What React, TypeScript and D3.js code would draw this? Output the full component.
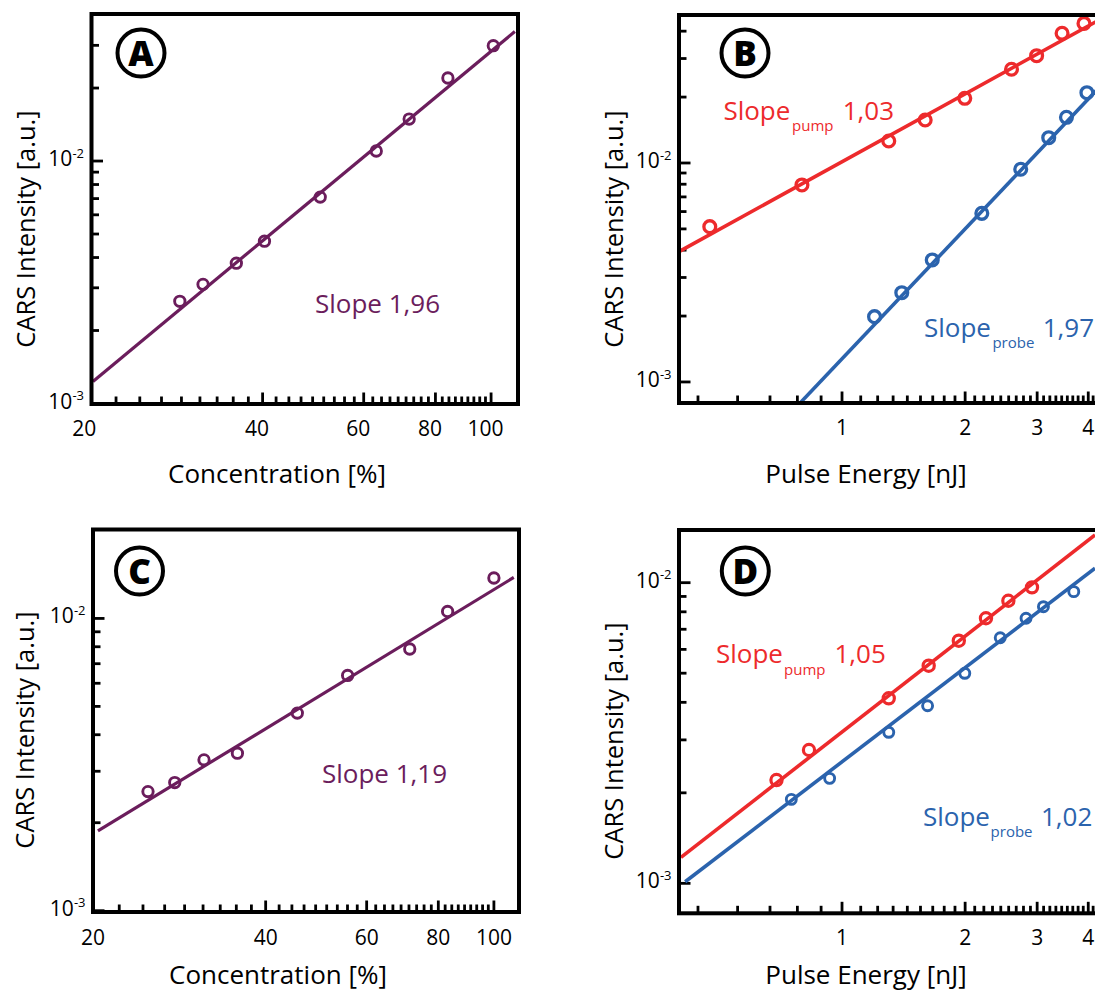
import React from "react";
import * as d3 from "d3";

const FONT = "'Open Sans', 'Noto Sans', 'DejaVu Sans', sans-serif";
const PURPLE = "#6b1d5c";
const RED = "#ed2a2c";
const BLUE = "#2b63ad";

// ---------- Panel A: concentration dependence ----------
const concA = [28.7, 31.5, 36.0, 40.3, 50.4, 63.1, 72.0, 84.1, 100.9];
const intA = [2.64e-3, 3.1e-3, 3.79e-3, 4.67e-3, 7.1e-3, 1.1e-2, 1.49e-2, 2.2e-2, 2.99e-2];
const fitAX = [20.26, 110.0];
const fitAY = [1.233e-3, 3.42e-2];

// ---------- Panel B: pulse energy dependence ----------
const pumpBE = [0.475, 0.798, 1.301, 1.597, 1.996, 2.597, 2.991, 3.452, 3.905];
const pumpBI = [5.12e-3, 7.94e-3, 1.26e-2, 1.572e-2, 1.974e-2, 2.68e-2, 3.09e-2, 3.91e-2, 4.34e-2];
const fitPumpBX = [0.3995, 4.5];
const fitPumpBY = [3.94e-3, 4.77e-2];
const probeBE = [1.201, 1.4, 1.662, 2.197, 2.735, 3.202, 3.538, 3.97];
const probeBI = [1.987e-3, 2.557e-3, 3.607e-3, 5.89e-3, 9.36e-3, 1.305e-2, 1.617e-2, 2.094e-2];
const fitProbeBX = [0.79, 4.5];
const fitProbeBY = [0.802e-3, 2.47e-2];

// ---------- Panel C: concentration dependence ----------
const concC = [24.94, 27.77, 31.23, 35.71, 45.42, 55.59, 71.33, 83.04, 100.0];
const intC = [2.556e-3, 2.744e-3, 3.282e-3, 3.459e-3, 4.743e-3, 6.38e-3, 7.86e-3, 1.057e-2, 1.375e-2];
const fitCX = [20.4, 108.3];
const fitCY = [1.875e-3, 1.381e-2];

// ---------- Panel D: pulse energy dependence ----------
const pumpDE = [0.6915, 0.8303, 1.301, 1.629, 1.93, 2.249, 2.551, 2.914];
const pumpDI = [2.206e-3, 2.776e-3, 4.125e-3, 5.296e-3, 6.413e-3, 7.614e-3, 8.71e-3, 9.65e-3];
const fitPumpDX = [0.4038, 4.156];
const fitPumpDY = [1.22e-3, 1.441e-2];
const probeDE = [0.7517, 0.9326, 1.301, 1.619, 1.996, 2.437, 2.818, 3.108, 3.687];
const probeDI = [1.903e-3, 2.235e-3, 3.179e-3, 3.898e-3, 4.995e-3, 6.561e-3, 7.614e-3, 8.321e-3, 9.335e-3];
const fitProbeDX = [0.4135, 4.156];
const fitProbeDY = [1.012e-3, 1.117e-2];

// ---------- Tick labels ----------
const concTicks = [20, 40, 60, 80, 100];
const energyTicks = [1, 2, 3, 4];
const decadeTicks = [1e-3, 1e-2];
const decadeExp = ["-3", "-2"];

type Series = {
  xs: number[]; ys: number[]; fitX: number[]; fitY: number[];
  color: string; r: number; sw: number; lw: number;
};
type Note = { color: string; parts: { t: string; x: number; y: number; size: number }[] };
type PanelDef = {
  letter: string;
  frame: [number, number, number, number];
  xDomain: [number, number];
  yDomain: [number, number];
  xMajor: number[];
  minorAbove: boolean;
  xLabelDx: number;
  xLabelY: number;
  xTitle: string;
  xTitlePos: [number, number];
  yTitlePos: [number, number];
  circle: [number, number];
  series: Series[];
  notes: Note[];
};

function minorX(majors: number[], lo: number, hi: number, above: boolean) {
  const out: number[] = [];
  for (let i = 0; i < majors.length - 1; i++) {
    const st = (majors[i + 1] - majors[i]) / 9;
    for (let k = 1; k <= 8; k++) out.push(majors[i] + k * st);
  }
  const st0 = (majors[1] - majors[0]) / 9;
  for (let k = 1; k <= 8; k++) {
    const v = majors[0] - k * st0;
    if (v > lo) out.push(v);
  }
  if (above) {
    const n = majors.length;
    const st1 = (majors[n - 1] - majors[n - 2]) / 9;
    for (let k = 1; k <= 8; k++) {
      const v = majors[n - 1] + k * st1;
      if (v < hi) out.push(v);
    }
  }
  return out;
}

function minorY(lo: number, hi: number) {
  const out: number[] = [];
  for (const d of [1e-3, 1e-2, 1e-1]) {
    for (let k = 2; k <= 9; k++) {
      const v = k * d;
      if (v > lo && v < hi * 0.97) out.push(v);
    }
  }
  return out;
}

const panels: PanelDef[] = [
  {
    letter: "A",
    frame: [91.5, 14, 518, 404],
    xDomain: [20.14, 111.4],
    yDomain: [0.9953e-3, 4.04e-2],
    xMajor: concTicks,
    minorAbove: false,
    xLabelDx: -5.5,
    xLabelY: 436,
    xTitle: "Concentration [%]",
    xTitlePos: [277, 483],
    yTitlePos: [25, 229],
    circle: [141, 53],
    series: [{ xs: concA, ys: intA, fitX: fitAX, fitY: fitAY, color: PURPLE, r: 5.2, sw: 2.9, lw: 3.2 }],
    notes: [{ color: PURPLE, parts: [{ t: "Slope 1,96", x: 315, y: 313, size: 26 }] }],
  },
  {
    letter: "B",
    frame: [679, 15, 1110, 403],
    xDomain: [0.3994, 4.521],
    yDomain: [8.015e-4, 4.741e-2],
    xMajor: energyTicks,
    minorAbove: true,
    xLabelDx: 0,
    xLabelY: 435,
    xTitle: "Pulse Energy [nJ]",
    xTitlePos: [866, 483],
    yTitlePos: [613, 229],
    circle: [745, 53],
    series: [
      { xs: pumpBE, ys: pumpBI, fitX: fitPumpBX, fitY: fitPumpBY, color: RED, r: 5.9, sw: 3.3, lw: 3.6 },
      { xs: probeBE, ys: probeBI, fitX: fitProbeBX, fitY: fitProbeBY, color: BLUE, r: 5.9, sw: 3.3, lw: 3.6 },
    ],
    notes: [
      { color: RED, parts: [
        { t: "Slope", x: 723.4, y: 120, size: 26 },
        { t: "pump", x: 792, y: 131, size: 15 },
        { t: "1,03", x: 842.7, y: 120, size: 26 },
      ] },
      { color: BLUE, parts: [
        { t: "Slope", x: 924, y: 337, size: 26 },
        { t: "probe", x: 992.4, y: 347.5, size: 15 },
        { t: "1,97", x: 1042.7, y: 337, size: 26 },
      ] },
    ],
  },
  {
    letter: "C",
    frame: [93, 529.5, 519, 912],
    xDomain: [20, 110.6],
    yDomain: [0.9898e-3, 2.015e-2],
    xMajor: concTicks,
    minorAbove: false,
    xLabelDx: 0,
    xLabelY: 945,
    xTitle: "Concentration [%]",
    xTitlePos: [278, 984],
    yTitlePos: [24, 730],
    circle: [139.5, 571],
    series: [{ xs: concC, ys: intC, fitX: fitCX, fitY: fitCY, color: PURPLE, r: 5.2, sw: 2.9, lw: 3.2 }],
    notes: [{ color: PURPLE, parts: [{ t: "Slope 1,19", x: 322, y: 783.3, size: 26 }] }],
  },
  {
    letter: "D",
    frame: [679, 530, 1110, 913.3],
    xDomain: [0.3994, 4.521],
    yDomain: [7.95e-4, 1.497e-2],
    xMajor: energyTicks,
    minorAbove: true,
    xLabelDx: 0,
    xLabelY: 945,
    xTitle: "Pulse Energy [nJ]",
    xTitlePos: [866, 984],
    yTitlePos: [613, 741],
    circle: [745.3, 571],
    series: [
      { xs: pumpDE, ys: pumpDI, fitX: fitPumpDX, fitY: fitPumpDY, color: RED, r: 5.6, sw: 3.2, lw: 3.6 },
      { xs: probeDE, ys: probeDI, fitX: fitProbeDX, fitY: fitProbeDY, color: BLUE, r: 5.0, sw: 2.9, lw: 3.6 },
    ],
    notes: [
      { color: RED, parts: [
        { t: "Slope", x: 716, y: 663.3, size: 26 },
        { t: "pump", x: 784, y: 675, size: 15 },
        { t: "1,05", x: 834.5, y: 663.3, size: 26 },
      ] },
      { color: BLUE, parts: [
        { t: "Slope", x: 923, y: 826, size: 26 },
        { t: "probe", x: 990.6, y: 836.7, size: 15 },
        { t: "1,02", x: 1041, y: 826, size: 26 },
      ] },
    ],
  },
];

function Panel({ p, idx }: { p: PanelDef; idx: number }) {
  const [L, T, R, B] = p.frame;
  const x = d3.scaleLog().domain(p.xDomain).range([L, R]);
  const y = d3.scaleLog().domain(p.yDomain).range([B, T]);
  const line = d3.line<[number, number]>().x((d) => x(d[0])).y((d) => y(d[1]));
  const xMin = minorX(p.xMajor, p.xDomain[0], p.xDomain[1], p.minorAbove);
  const yMin = minorY(p.yDomain[0], p.yDomain[1]);
  const clipId = `clip-${idx}`;
  return (
    <g>
      <defs>
        <clipPath id={clipId}>
          <rect x={L} y={T} width={R - L} height={B - T} />
        </clipPath>
      </defs>
      {/* ticks */}
      <g stroke="#000" strokeWidth={2.8}>
        {p.xMajor.filter((v) => x(v) > L + 2 && x(v) < R).map((v, i) => (
          <line key={"xM" + i} x1={x(v)} x2={x(v)} y1={B} y2={B - 11.5} />
        ))}
        {xMin.map((v, i) => (
          <line key={"xm" + i} x1={x(v)} x2={x(v)} y1={B} y2={B - 7.5} />
        ))}
        {decadeTicks.map((v, i) => (
          <line key={"yM" + i} x1={L} x2={L + 11.5} y1={y(v)} y2={y(v)} />
        ))}
        {yMin.map((v, i) => (
          <line key={"ym" + i} x1={L} x2={L + 7.5} y1={y(v)} y2={y(v)} />
        ))}
      </g>
      {/* data */}
      <g clipPath={`url(#${clipId})`}>
        {p.series.map((s, si) => (
          <g key={"s" + si}>
            <path
              d={line(s.fitX.map((v, i) => [v, s.fitY[i]] as [number, number])) || ""}
              fill="none"
              stroke={s.color}
              strokeWidth={s.lw}
            />
            {s.xs.map((v, i) => (
              <circle key={i} cx={x(v)} cy={y(s.ys[i])} r={s.r} fill="none" stroke={s.color} strokeWidth={s.sw} />
            ))}
          </g>
        ))}
      </g>
      {/* frame */}
      <rect x={L} y={T} width={R - L} height={B - T} fill="none" stroke="#000" strokeWidth={4} />
      {/* x tick labels */}
      <g fontFamily={FONT} fontSize={21} fill="#000" textAnchor="middle">
        {p.xMajor.map((v, i) => (
          <text key={"xl" + i} x={x(v) + p.xLabelDx} y={p.xLabelY}>{String(v)}</text>
        ))}
      </g>
      {/* y tick labels */}
      <g fontFamily={FONT} fill="#000">
        {decadeTicks.map((v, i) => (
          <text key={"yl" + i} x={L - 7.5} y={y(v) + 5} textAnchor="end" fontSize={21}>
            10<tspan fontSize={13} dy={-8.3}>{decadeExp[i]}</tspan>
          </text>
        ))}
      </g>
      {/* titles */}
      <text x={p.xTitlePos[0]} y={p.xTitlePos[1]} textAnchor="middle" fontFamily={FONT} fontSize={26} fill="#000">
        {p.xTitle}
      </text>
      <text
        transform={`translate(${p.yTitlePos[0]},${p.yTitlePos[1]}) rotate(-90)`}
        textAnchor="middle"
        dominantBaseline="central"
        fontFamily={FONT}
        fontSize={25.5}
        fill="#000"
      >
        CARS Intensity [a.u.]
      </text>
      {/* notes */}
      {p.notes.map((n, ni) => (
        <g key={"n" + ni} fill={n.color} fontFamily={FONT}>
          {n.parts.map((pt, pi) => (
            <text key={pi} x={pt.x} y={pt.y} fontSize={pt.size}>{pt.t}</text>
          ))}
        </g>
      ))}
      {/* panel letter */}
      <circle cx={p.circle[0]} cy={p.circle[1]} r={23.5} fill="#fff" stroke="#000" strokeWidth={4} />
      <text
        x={p.circle[0]}
        y={p.circle[1] + 12.5}
        textAnchor="middle"
        fontFamily={FONT}
        fontWeight={800}
        fontSize={35}
        fill="#000"
      >
        {p.letter}
      </text>
    </g>
  );
}

export default function App() {
  return (
    <svg
      width={1095}
      height={992}
      viewBox="0 0 1095 992"
      style={{ position: "absolute", left: 0, top: 0, background: "#fff", display: "block" }}
    >
      <rect x={0} y={0} width={1095} height={992} fill="#fff" />
      {panels.map((p, i) => (
        <Panel key={i} p={p} idx={i} />
      ))}
    </svg>
  );
}
